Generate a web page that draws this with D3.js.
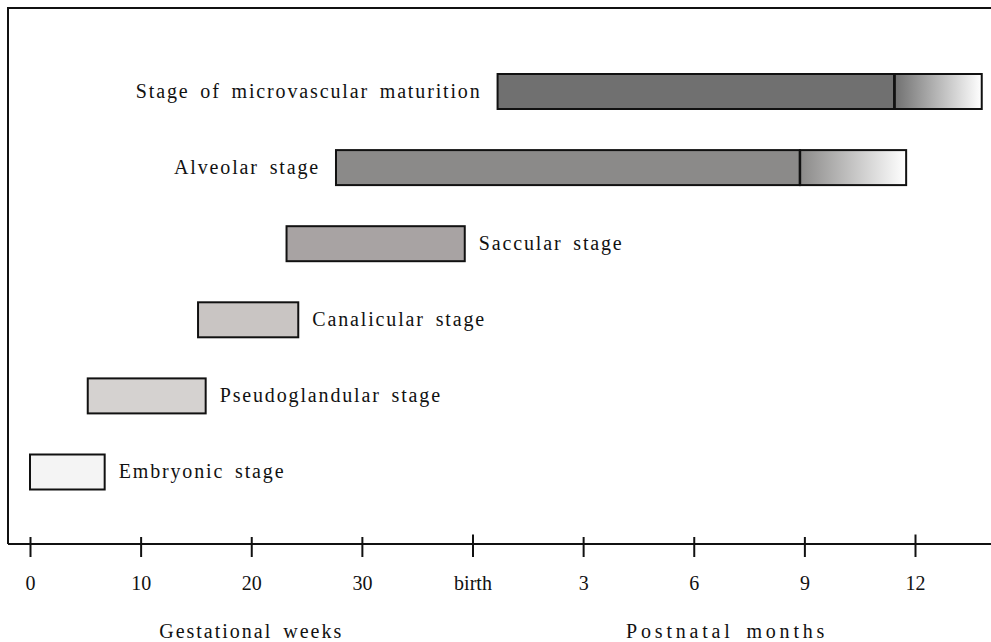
<!DOCTYPE html>
<html>
<head>
<meta charset="utf-8">
<script src="https://cdn.jsdelivr.net/npm/d3@7/dist/d3.min.js"></script>
<style>
  html, body { margin: 0; padding: 0; background: #fff; }
  svg { display: block; }
  text { font-family: "Liberation Serif", "DejaVu Serif", serif; fill: #111; }
</style>
</head>
<body>
<svg id="chart" width="991" height="642"></svg>
<script>
// ---- data ----
// Timeline units: gestational weeks 0..40 (40 = birth), then 40 + postnatal months.
const stages = [
  "Stage of microvascular maturition",
  "Alveolar stage",
  "Saccular stage",
  "Canalicular stage",
  "Pseudoglandular stage",
  "Embryonic stage"
];
const stageStart = [40.68, 27.66, 23.19, 15.19, 5.22, 0];
const stageEnd   = [51.44, 48.88, 39.3, 24.25, 15.88, 6.75];
const fadeEnd    = [53.81, 51.76, null, null, null, null]; // gradual tail of stage
const stageFill  = ["#707070", "#8b8a89", "#a8a3a3", "#c9c5c3", "#d5d2d0", "#f4f4f4"];
const labelSide  = ["left", "left", "right", "right", "right", "right"];
const tickValues = [0, 10, 20, 30, 40, 43, 46, 49, 52];
const tickLabels = ["0", "10", "20", "30", "birth", "3", "6", "9", "12"];
const majorTicks = ["birth", "12"];
const axisTitles = ["Gestational weeks", "Postnatal months"];

// ---- layout ----
const W = 991, H = 642;
const frameLeft = 8, frameTop = 8, axisY = 544;
const svg = d3.select("#chart");

const x = d3.scaleLinear().domain([0, 40, 52]).range([30, 472.5, 915]);
const y = d3.scalePoint().domain(stages).range([91.5, 472]);
const barH = 35;

const defs = svg.append("defs");
stages.forEach((s, i) => {
  if (fadeEnd[i] == null) return;
  const g = defs.append("linearGradient").attr("id", "fade" + i)
    .attr("x1", "0%").attr("x2", "100%").attr("y1", "0%").attr("y2", "0%");
  g.append("stop").attr("offset", "0%").attr("stop-color", stageFill[i]);
  g.append("stop").attr("offset", "100%").attr("stop-color", "#ffffff");
});

// frame (left + top) and axis line
svg.append("path")
  .attr("d", `M${frameLeft},${axisY}V${frameTop}H${W}`)
  .attr("fill", "none").attr("stroke", "#111").attr("stroke-width", 2);
svg.append("line")
  .attr("x1", frameLeft).attr("x2", W).attr("y1", axisY).attr("y2", axisY)
  .attr("stroke", "#111").attr("stroke-width", 2);

// bars
const rows = svg.append("g").selectAll("g").data(stages).join("g");
rows.each(function(s, i) {
  const g = d3.select(this);
  const yc = y(s);
  if (fadeEnd[i] != null) {
    g.append("rect")
      .attr("x", x(stageEnd[i])).attr("y", yc - barH / 2)
      .attr("width", x(fadeEnd[i]) - x(stageEnd[i])).attr("height", barH)
      .attr("fill", `url(#fade${i})`).attr("stroke", "#111").attr("stroke-width", 2);
  }
  g.append("rect")
    .attr("x", x(stageStart[i])).attr("y", yc - barH / 2)
    .attr("width", x(stageEnd[i]) - x(stageStart[i])).attr("height", barH)
    .attr("fill", stageFill[i]).attr("stroke", "#111").attr("stroke-width", 2);
  if (fadeEnd[i] != null) {
    g.append("line")
      .attr("x1", x(stageEnd[i])).attr("x2", x(stageEnd[i]))
      .attr("y1", yc - barH / 2).attr("y2", yc + barH / 2)
      .attr("stroke", "#111").attr("stroke-width", 2.5);
  }
  const left = labelSide[i] === "left";
  const rightEdge = fadeEnd[i] != null ? fadeEnd[i] : stageEnd[i];
  g.append("text")
    .attr("x", left ? x(stageStart[i]) - 16 : x(rightEdge) + 14)
    .attr("y", yc).attr("dy", "0.32em")
    .attr("text-anchor", left ? "end" : "start")
    .attr("font-size", 20)
    .style("letter-spacing", "1.85px").style("word-spacing", "4px")
    .text(s);
});

// axis
const axis = d3.axisBottom(x)
  .tickValues(tickValues)
  .tickFormat((d, i) => tickLabels[i])
  .tickSize(13).tickSizeOuter(0).tickPadding(0);
const ax = svg.append("g").attr("transform", `translate(0,${axisY})`).call(axis);
ax.select(".domain").remove();
ax.selectAll(".tick line")
  .attr("stroke", "#111").attr("stroke-width", 2)
  .attr("y1", (d, i) => majorTicks.includes(tickLabels[i]) ? -9.5 : -7);
ax.selectAll(".tick text")
  .attr("y", 46).attr("dy", 0)
  .attr("font-size", 20).attr("font-family", "Liberation Serif")
  .attr("fill", "#111");

// axis titles
const titleX = [x(20), (x(40) + x(fadeEnd[0])) / 2];
const titleSpacing = ["2px", "3.8px"];
axisTitles.forEach((t, i) => {
  svg.append("text")
    .attr("x", titleX[i]).attr("y", 638)
    .attr("text-anchor", "middle").attr("font-size", 20)
    .style("letter-spacing", titleSpacing[i]).style("word-spacing", "4px")
    .text(t);
});
</script>
</body>
</html>
